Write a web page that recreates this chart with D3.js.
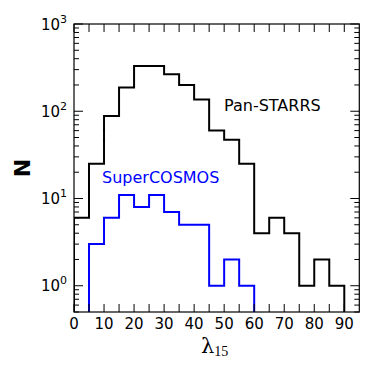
<!DOCTYPE html>
<html><head><meta charset="utf-8">
<script src="https://cdnjs.cloudflare.com/ajax/libs/d3/7.8.5/d3.min.js"></script>
<style>body{margin:0;background:#fff}svg{display:block}text{font-family:"DejaVu Sans",sans-serif}</style>
</head><body><div id="c"></div>
<script>
const binEdges = [0,5,10,15,20,25,30,35,40,45,50,55,60,65,70,75,80,85,90,95];
const panstarrs = [6,25,88,187,330,330,266,200,136,60,47,25,4,6,4,1,2,1,0];
const supercosmos = [0,3,6,11,8,11,7,5,5,1,2,1,0,0,0,0,0,0,0];
const xTicks = [0,10,20,30,40,50,60,70,80,90];
const xMinorTicks = [5,15,25,35,45,55,65,75,85];
const yDecades = [0,1,2,3];
const seriesNames = ["Pan-STARRS","SuperCOSMOS"];
const seriesColors = ["#000000","#0000ff"];

const W=374,H=374, L=74, T=24, R=359.3, B=312;
const svg=d3.select("#c").append("svg").attr("width",W).attr("height",H);
const x=d3.scaleLinear().domain([0,95]).range([L,R]);
const y=d3.scaleLog().domain([0.5,1000]).range([B,T]);

function stepPath(vals){
  const floor=0.5;
  const pts=[];
  let started=false;
  for(let i=0;i<vals.length;i++){
    const v=vals[i];
    if(v>0){
      if(!started){pts.push([binEdges[i],floor]);started=true;}
      pts.push([binEdges[i],v]);pts.push([binEdges[i+1],v]);
    } else if(started){
      pts.push([binEdges[i],floor]);started=false;
    }
  }
  if(started) pts.push([binEdges[vals.length],floor]);
  return d3.line().x(d=>x(d[0])).y(d=>y(Math.max(d[1],0.5)))(pts);
}
svg.append("clipPath").attr("id","cp").append("rect").attr("x",L).attr("y",T).attr("width",R-L).attr("height",B-T);
const g=svg.append("g").attr("clip-path","url(#cp)");
[panstarrs,supercosmos].forEach((vals,k)=>{
  g.append("path").attr("d",stepPath(vals)).attr("fill","none").attr("stroke",seriesColors[k]).attr("stroke-width",2).attr("stroke-linejoin","miter");
});

// frame
svg.append("rect").attr("x",L).attr("y",T).attr("width",R-L).attr("height",B-T).attr("fill","none").attr("stroke","#000").attr("stroke-width",1.2);

// x ticks
const allX=xTicks.concat(xMinorTicks);
allX.forEach(t=>{
  const px=x(t);
  svg.append("line").attr("x1",px).attr("x2",px).attr("y1",B).attr("y2",B-8).attr("stroke","#000");
  svg.append("line").attr("x1",px).attr("x2",px).attr("y1",T).attr("y2",T+8).attr("stroke","#000");
});
xTicks.forEach(t=>{
  svg.append("text").attr("x",x(t)).attr("y",329).attr("text-anchor","middle").attr("font-size",15).text(t);
});
// y ticks
yDecades.forEach(d=>{
  const v=Math.pow(10,d);
  const py=y(v);
  svg.append("line").attr("x1",L).attr("x2",L+9).attr("y1",py).attr("y2",py).attr("stroke","#000");
  svg.append("line").attr("x1",R).attr("x2",R-9).attr("y1",py).attr("y2",py).attr("stroke","#000");
  const tx=svg.append("text").attr("x",L-7).attr("y",py+5.5).attr("text-anchor","end").attr("font-size",15);
  tx.append("tspan").text("10");
  tx.append("tspan").attr("dy",-7).attr("font-size",11).text(d);
  for(let m=2;m<=9;m++){
    const mv=m*v;
    if(mv<0.5||mv>1000) continue;
    const my=y(mv);
    svg.append("line").attr("x1",L).attr("x2",L+5).attr("y1",my).attr("y2",my).attr("stroke","#000");
    svg.append("line").attr("x1",R).attr("x2",R-5).attr("y1",my).attr("y2",my).attr("stroke","#000");
  }
});
for(let m=5;m<=9;m++){
  const my=y(m/10);
  svg.append("line").attr("x1",L).attr("x2",L+5).attr("y1",my).attr("y2",my).attr("stroke","#000");
  svg.append("line").attr("x1",R).attr("x2",R-5).attr("y1",my).attr("y2",my).attr("stroke","#000");
}

// labels
svg.append("text").attr("transform","translate(30,168) rotate(-90)").attr("text-anchor","middle").attr("font-size",22).attr("font-weight","bold").text("N");
const xl=svg.append("text").attr("x",201).attr("y",353).style("font-family","'DejaVu Serif',serif").attr("font-size",21);
xl.append("tspan").text("λ");
xl.append("tspan").attr("dy",3).attr("font-size",14).style("font-family","'Liberation Serif',serif").text("15");
svg.append("text").attr("x",224).attr("y",111).attr("font-size",16).attr("fill",seriesColors[0]).text(seriesNames[0]);
svg.append("text").attr("x",102).attr("y",183).attr("font-size",16).attr("fill",seriesColors[1]).text(seriesNames[1]);
</script></body></html>
